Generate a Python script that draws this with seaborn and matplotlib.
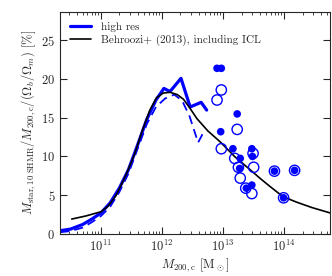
import numpy as np
import pandas as pd
import matplotlib
matplotlib.use("Agg")
import matplotlib.pyplot as plt
import seaborn as sns

# log10(M200c) and percent values
hr_logm = [10.33, 10.5, 10.7, 10.85, 11.0, 11.15, 11.3, 11.45, 11.6, 11.75,
           11.9, 12.03, 12.13, 12.31, 12.46, 12.64, 12.73]
hr_val = [0.4, 0.6, 1.2, 1.9, 2.7, 4.0, 5.9, 8.3, 11.5, 14.8,
          17.3, 18.8, 18.4, 20.1, 16.4, 17.0, 16.0]

dash_logm = [10.33, 10.5, 10.7, 10.85, 11.0, 11.15, 11.3, 11.45, 11.6, 11.75,
             11.9, 12.05, 12.2, 12.33, 12.45, 12.59, 12.67]
dash_val = [0.2, 0.35, 0.8, 1.5, 2.3, 3.5, 5.4, 7.8, 11.0, 14.2,
            16.4, 17.5, 18.0, 17.2, 15.2, 11.8, 13.0]

beh_logm = [10.52, 10.75, 11.0, 11.12, 11.25, 11.42, 11.55, 11.67, 11.8, 11.91,
            12.02, 12.13, 12.25, 12.35, 12.46, 12.57, 12.75, 12.95, 13.2, 13.44,
            13.6, 13.77, 13.98, 14.2, 14.45, 14.75]
beh_val = [1.9, 2.3, 2.85, 3.6, 5.0, 7.8, 10.3, 13.2, 16.0, 17.6,
           18.2, 18.3, 18.0, 17.4, 16.2, 14.9, 13.3, 11.9, 9.9, 8.3,
           7.2, 6.1, 4.8, 4.1, 3.4, 2.7]

filled_logm = [12.90, 12.97, 13.23, 12.96, 13.16, 13.47, 13.28, 13.27, 13.47,
               13.38, 13.48, 13.84, 14.17, 13.99]
filled_val = [21.4, 21.4, 15.5, 13.2, 11.0, 11.0, 9.75, 8.45, 6.3,
              5.9, 10.0, 8.1, 8.2, 4.65]

open_logm = [12.97, 12.90, 13.23, 12.97, 13.19, 13.49, 13.25, 13.50, 13.28,
             13.37, 13.47, 13.84, 14.17, 13.99]
open_val = [18.6, 17.3, 13.5, 11.0, 9.75, 10.4, 8.6, 8.6, 7.2,
            5.9, 5.2, 8.1, 8.2, 4.65]


def to_df(logm, val):
    return pd.DataFrame({"m": 10 ** np.array(logm), "f": val})


sns.set_style("ticks")
plt.rcParams["font.family"] = "serif"
plt.rcParams["font.serif"] = ["cmr10", "DejaVu Serif"]
plt.rcParams["mathtext.fontset"] = "cm"
plt.rcParams["axes.formatter.use_mathtext"] = True
plt.rcParams["axes.unicode_minus"] = False

fig = plt.figure(figsize=(3.32, 2.76), dpi=100)
ax = fig.add_axes([0.181, 0.153, 0.813, 0.804])

sns.lineplot(data=to_df(hr_logm, hr_val), x="m", y="f", color="blue", lw=2.3,
             label="high res", ax=ax)
sns.lineplot(data=to_df(dash_logm, dash_val), x="m", y="f", color="blue", lw=1.3,
             ls=(0, (5, 3)), legend=False, ax=ax)
sns.lineplot(data=to_df(beh_logm, beh_val), x="m", y="f", color="black", lw=1.2,
             label="Behroozi+ (2013), including ICL", ax=ax)
sns.scatterplot(data=to_df(filled_logm, filled_val), x="m", y="f", color="blue",
                s=30, edgecolor="none", legend=False, ax=ax, zorder=3)
sns.scatterplot(data=to_df(open_logm, open_val), x="m", y="f", facecolor="none",
                edgecolor="blue", linewidth=1.0, s=55, legend=False, ax=ax, zorder=3)

ax.set_xscale("log")
ax.set_xlim(10 ** 10.33, 10 ** 14.75)
ax.set_ylim(0, 28.7)
ax.set_yticks([0, 5, 10, 15, 20, 25])
ax.tick_params(which="both", direction="in", top=True, right=True, labelsize=9)
ax.tick_params(which="major", length=5, width=0.8)
ax.tick_params(which="minor", length=2.5, width=0.6)
for s in ax.spines.values():
    s.set_linewidth(0.8)

ax.set_xlabel(r"$M_{\rm 200,c}$ [M$_\odot$]", fontsize=9, labelpad=2)
ax.set_ylabel(r"$M_{\rm star,10\ SHMR}/M_{\rm 200,c}/(\Omega_b/\Omega_m)$ [%]",
              fontsize=9, labelpad=2)

ax.legend(loc="upper left", frameon=False, fontsize=8, handlelength=1.9,
          borderaxespad=0.5, labelspacing=0.25, handletextpad=0.9)

fig.savefig("out.png", dpi=100)
